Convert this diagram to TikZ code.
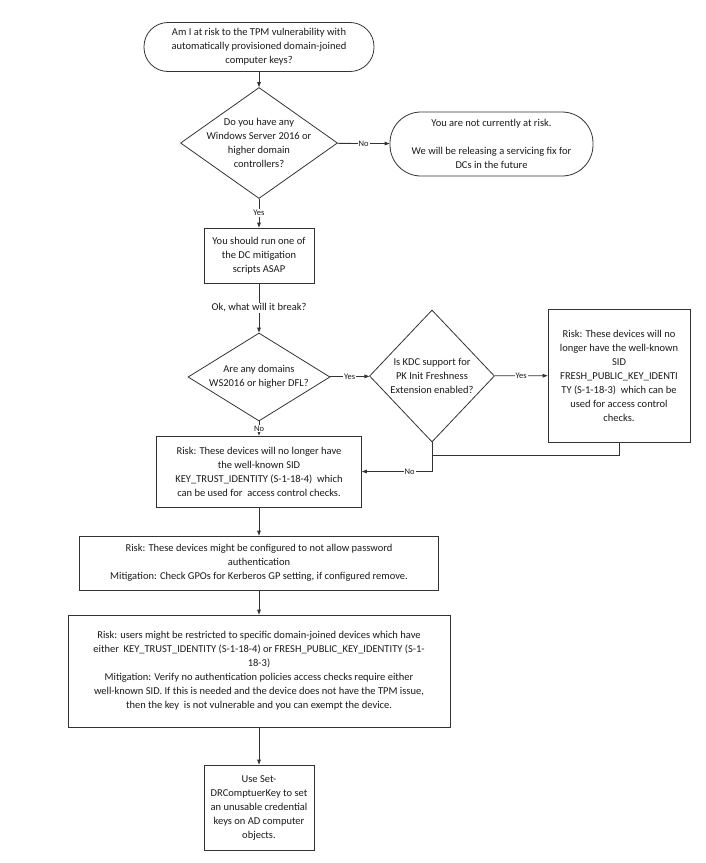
\documentclass[tikz,border=0pt]{standalone}
\usepackage{fontspec}
\setmainfont{Carlito}
\usetikzlibrary{arrows.meta, shapes.geometric}
\definecolor{visioink}{HTML}{1A1A1A}
\definecolor{visioline}{HTML}{333333}

\begin{document}
\begin{tikzpicture}[
  x=1pt, y=-1pt,
  every node/.style={font=\fontsize{10.5}{14}\selectfont, text=visioink},
  flow/.style={visioline, line width=0.8pt, -{Triangle[length=5pt, width=3.6pt]}},
  link/.style={visioline, line width=0.8pt},
  box/.style={draw=visioline, line width=0.8pt, rectangle, align=center, inner sep=2pt},
  term/.style={box, rounded corners=#1},
  decision/.style={draw=visioline, line width=0.8pt, diamond, inner sep=0pt},
  qtext/.style={align=center, inner sep=0pt},
  lbl/.style={font=\fontsize{8.5}{10}\selectfont, fill=white, inner sep=1pt}
]
  \useasboundingbox (0,0) rectangle (705,863);

  %% ---- start and first question ------------------------------------
  \node[term=24pt, minimum width=230pt, minimum height=49pt] (start) at (259,47)
    {Am I at risk to the TPM vulnerability with\\automatically provisioned domain-joined\\computer keys?};

  \node[decision, minimum width=157pt, minimum height=111pt] (q1) at (259,143) {};
  \node[qtext] (q1txt) at (q1) {Do you have any\\Windows Server 2016 or\\higher domain\\controllers?};

  \node[term=31pt, minimum width=203pt, minimum height=64pt] (notrisk) at (491.5,144)
    {You are not currently at risk.\\[14pt]We will be releasing a servicing fix for\\DCs in the future};

  \node[box, minimum width=110pt, minimum height=55pt] (run) at (259,255.5)
    {You should run one of\\the DC mitigation\\scripts ASAP};

  %% ---- what breaks -------------------------------------------------
  \node[decision, minimum width=142pt, minimum height=88pt] (q2) at (259,377) {};
  \node[qtext] (q2txt) at (q2) {Are any domains\\WS2016 or higher DFL?};

  \node[decision, minimum width=125pt, minimum height=132pt] (q3) at (432,376) {};
  \node[qtext] (q3txt) at (q3) {Is KDC support for\\PK Init Freshness\\Extension enabled?};

  \node[box, minimum width=142pt, minimum height=133pt] (fresh) at (619,375.5)
    {Risk: These devices will no\\longer have the well-known\\SID\\FRESH\_PUBLIC\_KEY\_IDENTI\\TY (S-1-18-3)~ which can be\\used for access control\\checks.};

  \node[box, minimum width=205pt, minimum height=71pt] (keytrust) at (259,471.5)
    {Risk: These devices will no longer have\\the well-known SID\\KEY\_TRUST\_IDENTITY (S-1-18-4)~ which\\can be used for~ access control checks.};
  \coordinate (join) at (432,455);

  %% ---- mitigations -------------------------------------------------
  \node[box, minimum width=359pt, minimum height=54pt] (pwd) at (259,563)
    {Risk: These devices might be configured to not allow password\\authentication\\Mitigation: Check GPOs for Kerberos GP setting, if configured remove.};

  \node[box, minimum width=382pt, minimum height=112pt] (policy) at (259,671)
    {Risk: users might be restricted to specific domain-joined devices which have\\either~ KEY\_TRUST\_IDENTITY (S-1-18-4) or FRESH\_PUBLIC\_KEY\_IDENTITY (S-1-\\18-3)\\Mitigation: Verify no authentication policies access checks require either\\well-known SID. If this is needed and the device does not have the TPM issue,\\then the key~ is not vulnerable and you can exempt the device.};

  \node[box, minimum width=110pt, minimum height=85pt] (setkey) at (259,807.5)
    {Use Set-\\DRComptuerKey to set\\an unusable credential\\keys on AD computer\\objects.};

  %% ---- connectors --------------------------------------------------
  \draw[flow] (start) -- (q1);
  \draw[flow] (q1) -- node[lbl] {No} (notrisk);
  \draw[flow] (q1) -- node[lbl] {Yes} (run);
  \draw[flow] (run) -- node[fill=white, inner sep=1pt] {Ok, what will it break?} (q2);
  \draw[flow] (q2) -- node[lbl] {Yes} (q3);
  \draw[flow] (q2) -- node[lbl] {No} (keytrust);
  \draw[flow] (q3) -- node[lbl] {Yes} (fresh);
  \draw[flow] (q3.south) |- node[lbl, pos=0.66] {No} (keytrust.east);
  \draw[link] (fresh.south) |- (join);
  \draw[flow] (keytrust) -- (pwd);
  \draw[flow] (pwd) -- (policy);
  \draw[flow] (policy) -- (setkey);

\end{tikzpicture}
\end{document}
